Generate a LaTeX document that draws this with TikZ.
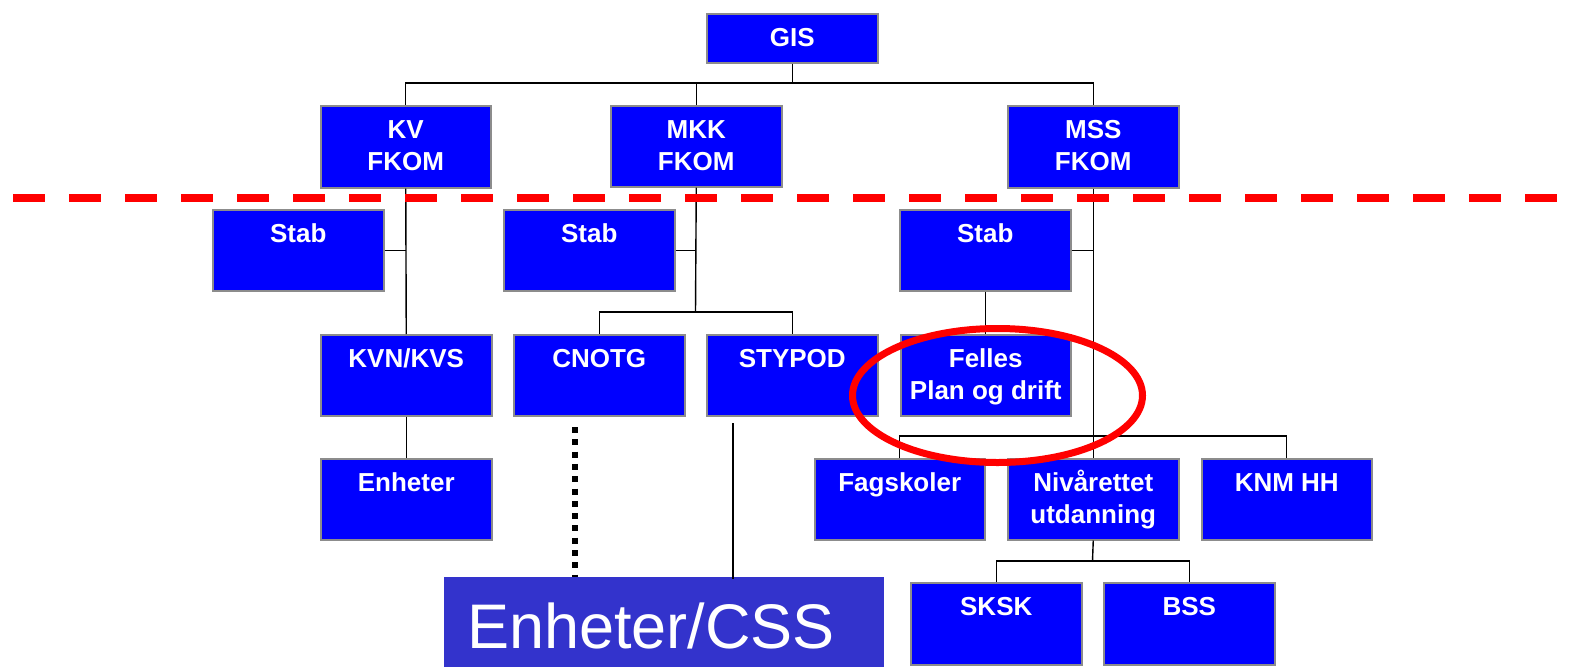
\documentclass[tikz,border=0pt]{standalone}
\usepackage{fontspec}
\setmainfont{Liberation Sans}
\definecolor{boxblue}{RGB}{0,0,255}
\definecolor{boxedge}{RGB}{140,140,140}
\definecolor{cssblue}{RGB}{51,51,204}
\definecolor{redline}{RGB}{255,0,0}
\tikzset{
  box/.style={draw=boxedge, line width=1.5pt, fill=boxblue, inner sep=0pt, anchor=north west},
  lbl/.style={anchor=base, align=center, inner sep=0pt, text=white,
              font=\fontsize{26}{32}\selectfont\bfseries},
  conn/.style={line width=1.4pt, black},
}
% one-line label: baseline 33pt below the box top
\newcommand\orgunit[6]{%
  \node[box, minimum width=#4, minimum height=#5] (#1) at (#2,#3) {};
  \node[lbl] (#1-t) at ([yshift=-33pt]#1.north) {#6};}
% two-line label: last baseline 65pt below the box top
\newcommand\orgunitii[6]{%
  \node[box, minimum width=#4, minimum height=#5] (#1) at (#2,#3) {};
  \node[lbl] (#1-t) at ([yshift=-65pt]#1.north) {#6};}
\begin{document}
\begin{tikzpicture}[x=1pt,y=-1pt]
\useasboundingbox (0,0) rectangle (1579,667);
% boxes
\orgunit{gis}{706}{13}{171}{49}{GIS}
\orgunitii{kv}{320}{105}{170}{82}{KV\\FKOM}
\orgunitii{mkk}{610}{105}{171}{81}{MKK\\FKOM}
\orgunitii{mss}{1007}{105}{171}{82}{MSS\\FKOM}
\orgunit{stab1}{212}{209}{171}{81}{Stab}
\orgunit{stab2}{503}{209}{171}{81}{Stab}
\orgunit{stab3}{899}{209}{171}{81}{Stab}
\orgunit{kvn}{320}{334}{171}{81}{KVN/KVS}
\orgunit{cnotg}{513}{334}{171}{81}{CNOTG}
\orgunit{stypod}{706}{334}{171}{81}{STYPOD}
\orgunitii{felles}{900}{334}{170}{81}{Felles\\Plan og drift}
\orgunit{enh}{320}{458}{171}{81}{Enheter}
\orgunit{fag}{814}{458}{170}{81}{Fagskoler}
\orgunitii{niv}{1007}{458}{171}{81}{Nivårettet\\utdanning}
\orgunit{knm}{1201}{458}{170}{81}{KNM HH}
\orgunit{sksk}{910}{582}{171}{82}{SKSK}
\orgunit{bss}{1103}{582}{171}{82}{BSS}
\node[fill=cssblue, inner sep=0pt, minimum width=440, minimum height=90, anchor=north west] (css) at (444,577) {};
\node[anchor=base west, inner sep=0pt, text=white, font=\fontsize{63}{70}\selectfont] (css-t) at (467,648) {Enheter/CSS};
% connectors
\coordinate (top) at (791,83);
\draw[conn] (gis.south) -- (gis.south |- top);
\draw[conn] (kv.north) |- (top) -| (mss.north);
\draw[conn] (mkk.north) -- (mkk.north |- top);
% KV branch
\draw[conn] (kv.south) -- (kvn.north);
\draw[conn] (stab1.east) -- (stab1.east -| kv.south);
\draw[conn] (kvn.south) -- (enh.north);
% MKK branch
\coordinate (mkkbar) at (695.5,312);
\draw[conn] (mkk.south) -- (mkkbar);
\draw[conn] (stab2.east) -- (stab2.east -| mkk.south);
\draw[conn] (cnotg.north) |- (mkkbar) -| (stypod.north);
% MSS branch
\coordinate (mssbar) at (1092.5,436);
\draw[conn] (mss.south) -- (niv.north);
\draw[conn] (stab3.east) -- (stab3.east -| mss.south);
\draw[conn] (stab3.south -| felles.north) -- (felles.north);
\draw[conn] (fag.north) |- (mssbar) -| (knm.north);
\coordinate (nivbar) at (1092.5,561);
\draw[conn] (niv.south) -- (nivbar);
\draw[conn] (sksk.north) |- (nivbar) -| (bss.north);
% lines to Enheter/CSS
\coordinate (dotstart) at (575,427);
\coordinate (linestart) at (733,423);
\draw[line width=6pt, dash pattern=on 6pt off 6.3pt] (dotstart) -- (dotstart |- css.north);
\draw[line width=1.3pt] (linestart) -- ([yshift=-2pt]linestart |- css.north);
% red dashed boundary
\coordinate (dl) at (13,197.5);
\coordinate (dr) at (1557,197.5);
\draw[redline, line width=8pt, dash pattern=on 32pt off 24pt] (dl) -- (dr);
% red ellipse
\draw[redline, line width=7pt] (997.5,395.5) ellipse [x radius=145, y radius=67];
\end{tikzpicture}
\end{document}
